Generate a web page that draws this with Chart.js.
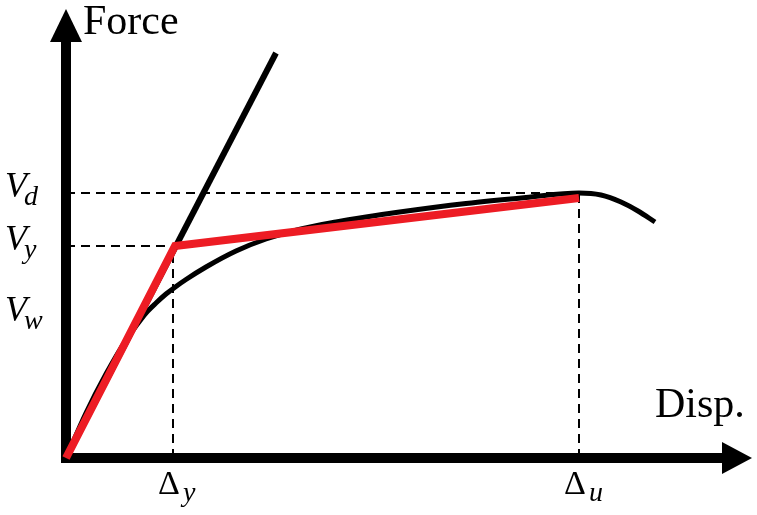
<!DOCTYPE html>
<html>
<head>
<meta charset="utf-8">
<script src="https://cdn.jsdelivr.net/npm/chart.js@4"></script>
<style>
  body { margin: 0; background: #fff; }
  #wrap { width: 757px; height: 515px; }
</style>
</head>
<body>
<div id="wrap"><canvas id="pushover"></canvas></div>
<script>
// measured force-displacement curve (arbitrary units)
const curveDisp = [0, 2.0, 4.0, 6.0, 7.0, 8.0, 9.0, 10.0, 11.0, 12.0, 14.0, 17.0, 20.0, 23.5, 27.0, 30.0, 33.0, 40.0, 46.0, 51.3, 53.5, 55.5, 57.2, 58.9];
const curveForce = [0, 4.5, 8.4, 11.8, 13.2, 14.5, 15.5, 16.4, 17.15, 17.85, 19.1, 20.7, 21.9, 22.9, 23.6, 24.1, 24.55, 25.45, 26.05, 26.5, 26.3, 25.6, 24.7, 23.6];

// initial stiffness line
const elasticDisp = [0, 21.0];
const elasticForce = [0, 40.5];

// idealized bilinear curve
const bilinearDisp = [0, 10.9, 51.3];
const bilinearForce = [0, 21.2, 26.0];

// key values
const dispY = 10.7;   // yield displacement
const dispU = 51.3;   // ultimate displacement
const forceD = 26.5;  // V_d
const forceY = 21.2;  // V_y
const forceW = 14.1;  // V_w

// tick labels: [main, subscript]
const yTickValues = [forceD, forceY, forceW];
const yTickLabels = [["V", "d"], ["V", "y"], ["V", "w"]];
const xTickValues = [dispY, dispU];
const xTickLabels = [["Δ", "y"], ["Δ", "u"]];

const toPoints = (xs, ys) => xs.map((x, i) => ({ x: x, y: ys[i] }));

const RED = "#ed1c24";

const dashed = (pts) => ({
  data: pts,
  showLine: true,
  borderColor: "#000",
  borderWidth: 2,
  borderDash: [9, 6],
  pointRadius: 0,
  clip: false,
  order: 4,
});

// axes with arrow heads + labels
const axesPlugin = {
  id: "axesPlugin",
  beforeDatasetsDraw(chart) {
    const { ctx, scales } = chart;
    const x0 = scales.x.getPixelForValue(0);
    const y0 = scales.y.getPixelForValue(0);
    const top = scales.y.top;
    const right = scales.x.right;
    ctx.save();
    ctx.fillStyle = "#000";
    // y axis
    ctx.fillRect(x0 - 5, top + 28, 10, y0 - top - 23);
    ctx.beginPath();
    ctx.moveTo(x0 - 16, top + 30);
    ctx.lineTo(x0 + 16, top + 30);
    ctx.lineTo(x0, top - 3);
    ctx.closePath();
    ctx.fill();
    // x axis
    ctx.fillRect(x0 - 5, y0 - 5, right - x0 - 25, 10);
    ctx.beginPath();
    ctx.moveTo(right - 30, y0 - 16);
    ctx.lineTo(right - 30, y0 + 16);
    ctx.lineTo(right, y0);
    ctx.closePath();
    ctx.fill();
    ctx.restore();
  },
  afterDraw(chart) {
    const { ctx, scales } = chart;
    const y0 = scales.y.getPixelForValue(0);
    ctx.save();
    ctx.fillStyle = "#000";
    ctx.textBaseline = "alphabetic";
    ctx.textAlign = "left";

    // axis titles
    ctx.font = "42px 'Liberation Serif'";
    ctx.fillText("Force", 83, 34);
    ctx.fillText("Disp.", 655, y0 - 41);

    // y tick labels
    yTickValues.forEach((v, i) => {
      const py = scales.y.getPixelForValue(v) + 4;
      ctx.font = "italic 36px 'Liberation Serif'";
      ctx.fillText(yTickLabels[i][0], 5, py);
      const w = ctx.measureText(yTickLabels[i][0]).width;
      ctx.font = "italic 28px 'Liberation Serif'";
      ctx.fillText(yTickLabels[i][1], 5 + w - 3, py + 8);
    });

    // x tick labels
    xTickValues.forEach((v, i) => {
      const px = scales.x.getPixelForValue(v);
      ctx.font = "34px 'Liberation Serif'";
      const w = ctx.measureText(xTickLabels[i][0]).width;
      ctx.fillText(xTickLabels[i][0], px - w / 2 - 4, y0 + 36);
      ctx.font = "italic 28px 'Liberation Serif'";
      ctx.fillText(xTickLabels[i][1], px + w / 2 - 1, y0 + 43);
    });
    ctx.restore();
  },
};

const ctx = document.getElementById("pushover").getContext("2d");
const pushoverChart = new Chart(ctx, {
  type: "scatter",
  data: {
    datasets: [
      dashed([{ x: 0, y: forceD }, { x: dispU, y: forceD }]),
      dashed([{ x: 0, y: forceY }, { x: dispY, y: forceY }]),
      dashed([{ x: dispY, y: 0 }, { x: dispY, y: forceY }]),
      dashed([{ x: dispU, y: 0 }, { x: dispU, y: forceD }]),
      {
        label: "Initial stiffness",
        data: toPoints(elasticDisp, elasticForce),
        showLine: true,
        borderColor: "#000",
        borderWidth: 6,
        pointRadius: 0,
        clip: false,
        order: 3,
      },
      {
        label: "Capacity curve",
        data: toPoints(curveDisp, curveForce),
        showLine: true,
        cubicInterpolationMode: "monotone",
        borderColor: "#000",
        borderWidth: 5,
        pointRadius: 0,
        clip: false,
        order: 2,
      },
      {
        label: "Bilinear",
        data: toPoints(bilinearDisp, bilinearForce),
        showLine: true,
        borderColor: RED,
        borderWidth: 8,
        borderJoinStyle: "miter",
        pointRadius: 0,
        clip: false,
        order: 1,
      },
    ],
  },
  options: {
    responsive: true,
    maintainAspectRatio: false,
    animation: false,
    layout: {
      padding: { left: 66, right: 5, top: 12, bottom: 57 },
    },
    scales: {
      x: { type: "linear", min: 0, max: 68.6, display: false },
      y: { type: "linear", min: 0, max: 44.6, display: false },
    },
    plugins: {
      legend: { display: false },
      tooltip: { enabled: false },
    },
  },
  plugins: [axesPlugin],
});
</script>
</body>
</html>
